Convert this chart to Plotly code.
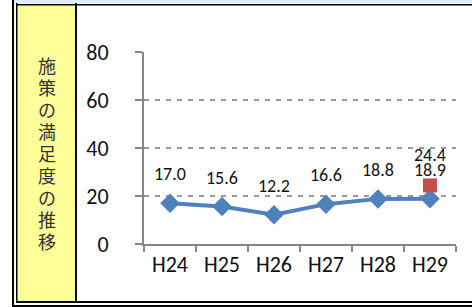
import plotly.graph_objects as go

categories = ["H24", "H25", "H26", "H27", "H28", "H29"]
satisfaction = [17.0, 15.6, 12.2, 16.6, 18.8, 18.9]
target_cat = ["H29"]
target_val = [24.4]
y_ticks = [0, 20, 40, 60, 80]
side_title = "施策の満足度の推移"

W, H = 472, 307
L, R, T, B = 144, 16, 52, 63
PW, PH = W - L - R, H - T - B


def px(x):
    return (x - L) / PW


def py(y):
    return (H - B - y) / PH


FONT = "Carlito, Lato, 'Open Sans', sans-serif"

fig = go.Figure()
fig.add_trace(go.Scatter(
    x=categories, y=satisfaction, mode="lines+markers",
    line=dict(color="#4F81BD", width=4),
    marker=dict(symbol="diamond", size=15, color="#4F81BD"),
    showlegend=False, hoverinfo="skip"))
fig.add_trace(go.Scatter(
    x=target_cat, y=target_val, mode="markers",
    marker=dict(symbol="square", size=14, color="#C0504D"),
    showlegend=False, hoverinfo="skip"))

ann = []
for c, v in zip(categories, satisfaction):
    ann.append(dict(x=c, y=v, xref="x", yref="y", text=f"{v:.1f}", showarrow=False,
                    yshift=29, yanchor="middle", font=dict(family=FONT, size=18, color="#111")))
for c, v in zip(target_cat, target_val):
    ann.append(dict(x=c, y=v, xref="x", yref="y", text=f"{v:.1f}", showarrow=False,
                    yshift=30, yanchor="middle", font=dict(family=FONT, size=18, color="#111")))
for i, ch in enumerate(side_title):
    ann.append(dict(x=px(47), y=py(65 + 22 * i), xref="paper", yref="paper",
                    text=ch, showarrow=False, xanchor="center", yanchor="middle",
                    font=dict(family="Noto Sans CJK JP", size=18, color="#333")))


def rect(x0, y0, x1, y1, color, layer="above"):
    return dict(type="rect", xref="paper", yref="paper",
                x0=px(x0), x1=px(x1), y0=py(y0), y1=py(y1),
                fillcolor=color, line=dict(width=0), layer=layer)


shapes = [
    rect(14, 0, 472, 3, "#DCEFF7"),
    rect(14, 3, 16, 305, "#FFFFCC"),
    rect(17, 3, 76, 301, "#FFFF99"),
    rect(12, 0, 14, 307, "#000"),
    rect(16, 3, 17.5, 303, "#000"),
    rect(75, 3, 77, 302, "#000"),
    rect(17, 4, 472, 5.5, "#000"),
    rect(16, 301, 472, 303, "#000"),
    rect(12, 305, 472, 307, "#000"),
]

fig.update_layout(
    width=W, height=H, margin=dict(l=L, r=R, t=T, b=B),
    paper_bgcolor="white", plot_bgcolor="white",
    annotations=ann, shapes=shapes,
    xaxis=dict(type="category", range=[-0.5, 5.5], showgrid=False,
               showline=True, linecolor="#868686", linewidth=2,
               ticks="outside", ticklen=6, tickwidth=1.5, tickcolor="#868686",
               tickson="boundaries", tickfont=dict(family=FONT, size=22, color="#111"),
               fixedrange=True),
    yaxis=dict(range=[0, 80], tickvals=y_ticks, showgrid=True,
               gridcolor="#9A9A9A", gridwidth=1.5, griddash="5px,6px",
               zeroline=False, showline=True, linecolor="#868686", linewidth=2,
               ticks="outside", ticklen=7, tickwidth=1.5, tickcolor="#868686",
               ticklabelstandoff=22,
               tickfont=dict(family=FONT, size=22, color="#111"), fixedrange=True),
)

fig.write_html("out.html", config={"displayModeBar": False},
               post_script="document.body.style.margin='0';")
